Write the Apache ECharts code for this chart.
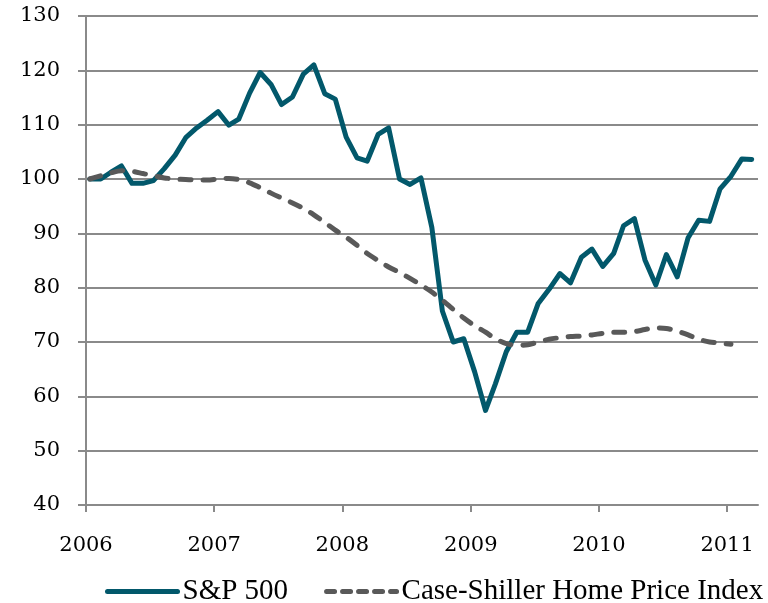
<!DOCTYPE html>
<html>
<head>
<meta charset="utf-8">
<script src="https://cdn.jsdelivr.net/npm/echarts@6/dist/echarts.min.js"></script>
<style>
html, body { margin: 0; padding: 0; background: #fff; }
#main { width: 768px; height: 603px; }
</style>
</head>
<body>
<div id="main"></div>
<script>
// 月度数据, 2006年1月 = 100
var startYear = 2006;
var spx = [
    100.0, 100.0, 101.2, 102.4, 99.2, 99.2, 99.7, 101.9, 104.4, 107.6, 109.4, 110.8,
    112.4, 109.9, 111.0, 115.8, 119.6, 117.4, 113.7, 115.1, 119.3, 121.0, 115.7, 114.7,
    107.7, 103.9, 103.3, 108.2, 109.4, 100.0, 99.0, 100.2, 91.1, 75.7, 70.0, 70.6,
    64.5, 57.4, 62.3, 68.2, 71.8, 71.8, 77.1, 79.7, 82.6, 80.9, 85.6, 87.1,
    83.9, 86.3, 91.4, 92.7, 85.1, 80.5, 86.1, 82.0, 89.2, 92.4, 92.2, 98.2,
    100.5, 103.7, 103.6
];
var caseShiller = [
    100.0, 100.6, 101.1, 101.5, 101.4, 101.0, 100.6, 100.2, 100.0, 99.9, 99.8, 99.8,
    100.0, 100.1, 99.9, 99.3, 98.4, 97.4, 96.5, 95.6, 94.6, 93.4, 92.0, 90.6,
    89.3, 87.8, 86.3, 85.0, 83.8, 82.8, 81.7, 80.5, 79.2, 77.7, 76.0, 74.4,
    73.0, 71.8, 70.6, 69.7, 69.4, 69.5, 70.0, 70.5, 70.8, 71.0, 71.1, 71.3,
    71.6, 71.8, 71.8, 71.9, 72.3, 72.6, 72.5, 72.0, 71.3, 70.5, 70.0, 69.8,
    69.6
];
var seriesNames = ['S&P 500', 'Case-Shiller Home Price Index'];

// 月份 -> 日期 (每月中旬的观测日)
function monthDate(i) {
    var y = startYear + Math.floor(i / 12);
    var m = (i % 12) + 1;
    return y + '-' + (m < 10 ? '0' + m : m) + '-12';
}
function toPairs(arr) {
    return arr.map(function (v, i) { return [monthDate(i), v]; });
}

var gridColor = '#8a8a8a';
var labelFont = 'DejaVu Serif';

var myChart = echarts.init(document.getElementById('main'));
var option = {
    animation: false,
    grid: {
        left: 86, right: 10, top: 16, bottom: 98,
        containLabel: false,
        outerBoundsMode: 'none'
    },
    //图例
    legend: {
        data: [
            { name: seriesNames[0] },
            { name: seriesNames[1], lineStyle: { width: 5, type: [8, 8], cap: 'round' } }
        ],
        left: 105,
        top: 577,
        padding: 0,
        itemWidth: 70,
        itemHeight: 14,
        itemGap: 36,
        itemStyle: { opacity: 0 },
        lineStyle: { width: 5, cap: 'round' },
        textStyle: { fontFamily: 'Liberation Serif', fontSize: 29, color: '#000' }
    },
    xAxis: {
        type: 'time',
        min: '2006-01-01',
        max: '2011-03-30',
        minInterval: 365 * 86400000,
        maxInterval: 366 * 86400000,
        axisLine: { lineStyle: { color: gridColor, width: 2 } },
        axisTick: { length: 7, lineStyle: { color: gridColor, width: 2 } },
        axisLabel: {
            formatter: '{yyyy}',
            margin: 30,
            fontFamily: labelFont,
            fontSize: 21,
            color: '#000',
            showMaxLabel: false
        },
        splitLine: { show: false }
    },
    yAxis: {
        type: 'value',
        min: 40,
        max: 130,
        interval: 10,
        axisLine: { show: true, lineStyle: { color: gridColor, width: 2 } },
        axisTick: { show: true, length: 8, lineStyle: { color: gridColor, width: 2 } },
        axisLabel: { margin: 26, fontFamily: labelFont, fontSize: 21, color: '#000' },
        splitLine: { lineStyle: { color: gridColor, width: 2 } }
    },
    series: [
        {
            name: seriesNames[0],
            type: 'line',
            symbol: 'none',
            data: toPairs(spx),
            lineStyle: { color: '#02586b', width: 5, cap: 'round', join: 'round' },
            itemStyle: { color: '#02586b' }
        },
        {
            name: seriesNames[1],
            type: 'line',
            symbol: 'none',
            smooth: 0.3,
            data: toPairs(caseShiller),
            lineStyle: { color: '#595959', width: 5, type: [11, 12], cap: 'round', join: 'round' },
            itemStyle: { color: '#595959' }
        }
    ]
};
myChart.setOption(option);
</script>
</body>
</html>
